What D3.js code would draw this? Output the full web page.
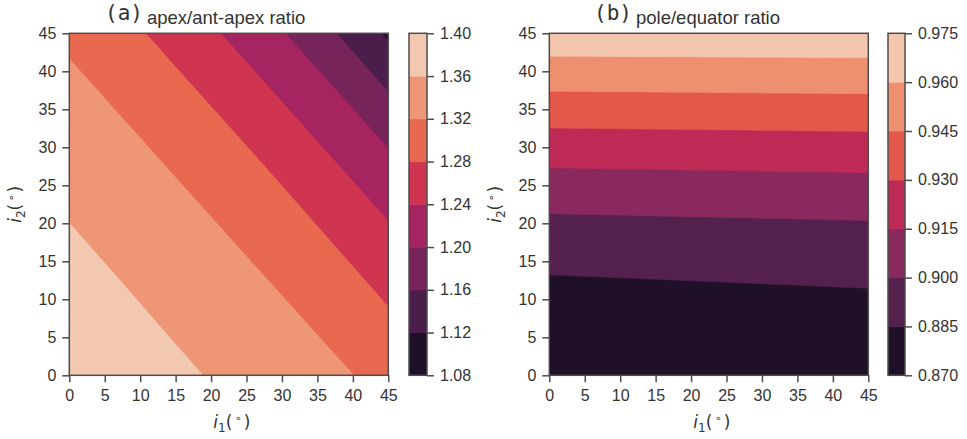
<!DOCTYPE html>
<html><head><meta charset="utf-8">
<script src="https://cdn.jsdelivr.net/npm/d3@7"></script>
<style>
body{margin:0;background:#fff}
svg text{font-family:"Liberation Sans",Arial,sans-serif;fill:#333}
</style>
</head><body>
<svg id="chart" width="967" height="439"></svg>
<script>
// ---------- data ----------
const axisTicks = [0,5,10,15,20,25,30,35,40,45];

// panel (a): apex/ant-apex ratio on a grid i1 (columns) x i2 (rows)
const gridA_i1 = [0,5,10,15,20,25,30,35,40,45];
const gridA_i2 = [0,5,10,15,20,25,30,35,40,45];
const ratioA = [
  [1.3850,1.3785,1.3719,1.3654,1.3584,1.3489,1.3394,1.3299,1.3204,1.3058],
  [1.3788,1.3722,1.3657,1.3588,1.3493,1.3398,1.3303,1.3208,1.3065,1.2918],
  [1.3726,1.3660,1.3593,1.3498,1.3403,1.3308,1.3213,1.3072,1.2925,1.2771],
  [1.3663,1.3597,1.3502,1.3407,1.3312,1.3217,1.3079,1.2932,1.2780,1.2592],
  [1.3601,1.3507,1.3412,1.3317,1.3222,1.3086,1.2939,1.2789,1.2601,1.2413],
  [1.3511,1.3416,1.3321,1.3226,1.3093,1.2946,1.2798,1.2610,1.2422,1.2204],
  [1.3421,1.3326,1.3231,1.3100,1.2953,1.2806,1.2619,1.2431,1.2215,1.1992],
  [1.3330,1.3235,1.3107,1.2960,1.2813,1.2628,1.2440,1.2225,1.2004,1.1732],
  [1.3240,1.3114,1.2967,1.2820,1.2637,1.2448,1.2236,1.2015,1.1745,1.1447],
  [1.3121,1.2974,1.2827,1.2646,1.2457,1.2246,1.2025,1.1758,1.1463,1.1134]
];
const levelsA = [1.08,1.12,1.16,1.20,1.24,1.28,1.32,1.36,1.40];
const colorsA = ["#1e1027","#4b1d4a","#77245b","#a6245f","#cf3550","#e8694f","#ee9675","#f3c8b0"];

// panel (b): pole/equator ratio
const gridB_i1 = [0,15,30,45];
const gridB_i2 = [0,5,10,15,20,25,30,35,40,45];
const ratioB = [
  [0.87475,0.87564,0.87652,0.87741],
  [0.87620,0.87707,0.87794,0.87882],
  [0.88049,0.88134,0.88217,0.88302],
  [0.88750,0.88829,0.88907,0.88986],
  [0.89702,0.89774,0.89844,0.89916],
  [0.90876,0.90938,0.90999,0.91062],
  [0.92235,0.92287,0.92338,0.92389],
  [0.93739,0.93779,0.93818,0.93858],
  [0.95342,0.95369,0.95396,0.95423],
  [0.96995,0.97009,0.97023,0.97037]
];
const levelsB = [0.870,0.885,0.900,0.915,0.930,0.945,0.960,0.975];
const colorsB = ["#1f0f27","#54214f","#8a295e","#bc2a55","#e3584b","#ee8f70","#f3c6ad"];

// ---------- drawing ----------
const svg = d3.select("#chart");
const INK = "#333";
const SPINE = "#4d4d4d";

function panel(o){
  const x = d3.scaleLinear().domain([0,45]).range([o.x0,o.x1]);
  const y = d3.scaleLinear().domain([0,45]).range([o.y1,o.y0]);
  const g = svg.append("g");
  const clipId = "clip"+o.id;
  svg.append("defs").append("clipPath").attr("id",clipId)
    .append("rect").attr("x",o.x0).attr("y",o.y0).attr("width",o.x1-o.x0).attr("height",o.y1-o.y0);

  const nx = o.gx.length, ny = o.gy.length;
  const sx = o.gx[1]-o.gx[0], sy = o.gy[1]-o.gy[0];
  const values = [];
  for (let j=0;j<ny;j++) for (let i=0;i<nx;i++) values.push(o.grid[j][i]);
  const proj = d3.geoTransform({point(px,py){
    this.stream.point(x(o.gx[0]+(px-0.5)*sx), y(o.gy[0]+(py-0.5)*sy));
  }});
  const path = d3.geoPath(proj);
  const bands = d3.contours().size([nx,ny]).thresholds(o.levels.slice(0,-1))(values);
  const cg = g.append("g").attr("clip-path",`url(#${clipId})`);
  cg.append("rect").attr("x",o.x0).attr("y",o.y0).attr("width",o.x1-o.x0).attr("height",o.y1-o.y0)
    .attr("fill",o.colors[0]);
  bands.forEach((b,k)=>{
    cg.append("path").attr("d",path(b)).attr("fill",o.colors[k])
      .attr("stroke",o.colors[k]).attr("stroke-width",0.6);
  });

  // axes
  const ax = g.append("g").attr("transform",`translate(0,${o.y1})`)
    .call(d3.axisBottom(x).tickValues(axisTicks).tickSize(7).tickPadding(7).tickFormat(d3.format("d")));
  const ay = g.append("g").attr("transform",`translate(${o.x0},0)`)
    .call(d3.axisLeft(y).tickValues(axisTicks).tickSize(7).tickPadding(6).tickFormat(d3.format("d")));
  [ax,ay].forEach(a=>{
    a.select(".domain").remove();
    a.selectAll(".tick line").attr("stroke",SPINE).attr("stroke-width",1.5);
    a.selectAll(".tick text").attr("fill",INK).style("font-size","16px")
      .style("font-family","'Liberation Sans',Arial,sans-serif");
  });
  g.append("rect").attr("x",o.x0).attr("y",o.y0).attr("width",o.x1-o.x0).attr("height",o.y1-o.y0)
    .attr("fill","none").attr("stroke",SPINE).attr("stroke-width",1.5);

  // colorbar
  const cy = d3.scaleLinear().domain([o.levels[0],o.levels[o.levels.length-1]]).range([o.y1,o.y0]);
  const cb = g.append("g");
  o.colors.forEach((c,k)=>{
    cb.append("rect").attr("x",o.cx0).attr("width",o.cx1-o.cx0)
      .attr("y",cy(o.levels[k+1])).attr("height",cy(o.levels[k])-cy(o.levels[k+1])+0.5)
      .attr("fill",c);
  });
  cb.append("rect").attr("x",o.cx0).attr("y",o.y0).attr("width",o.cx1-o.cx0).attr("height",o.y1-o.y0)
    .attr("fill","none").attr("stroke",SPINE).attr("stroke-width",1.5);
  const ca = g.append("g").attr("transform",`translate(${o.cx1},0)`)
    .call(d3.axisRight(cy).tickValues(o.levels).tickSize(7).tickPadding(6).tickFormat(d3.format(o.fmt)));
  ca.select(".domain").remove();
  ca.selectAll(".tick line").attr("stroke",SPINE).attr("stroke-width",1.5);
  ca.selectAll(".tick text").attr("fill",INK).style("font-size","16px")
    .style("font-family","'Liberation Sans',Arial,sans-serif");

  // title
  g.append("text").attr("x",o.tx).attr("y",20).style("font-family","'DejaVu Sans Mono',monospace")
    .style("font-size","21px").attr("fill","#222").text(o.tag);
  g.append("text").attr("x",o.tx+42).attr("y",23.5).style("font-size","18.5px").attr("fill",INK).text(o.title);

  // axis labels
  const xl = g.append("text").attr("x",(o.x0+o.x1)/2+3).attr("y",428).attr("text-anchor","middle")
    .style("font-family","'DejaVu Sans',sans-serif").style("font-size","17px").attr("fill",INK);
  addLabel(xl,"1");
  const yl = g.append("text").attr("transform",`translate(${o.x0-48},${(o.y0+o.y1)/2}) rotate(-90)`)
    .attr("text-anchor","middle")
    .style("font-family","'DejaVu Sans',sans-serif").style("font-size","17px").attr("fill",INK);
  addLabel(yl,"2");
}
function addLabel(t,sub){
  t.append("tspan").style("font-style","italic").text("i");
  t.append("tspan").attr("dy",4).style("font-size","12px").text(sub);
  t.append("tspan").attr("dy",-4).text("(");
  t.append("tspan").attr("dy",-6).style("font-size","11px").text("\u2009\u2218\u2009");
  t.append("tspan").attr("dy",6).text(")");
}

panel({id:"a",x0:69.3,x1:388.3,y0:33.3,y1:375.3,cx0:409,cx1:427,
  gx:gridA_i1,gy:gridA_i2,grid:ratioA,levels:levelsA,colors:colorsA,fmt:".2f",
  tx:105,tag:"(a)",title:"apex/ant-apex ratio"});
panel({id:"b",x0:549.3,x1:868.3,y0:33.3,y1:375.3,cx0:888,cx1:905,
  gx:gridB_i1,gy:gridB_i2,grid:ratioB,levels:levelsB,colors:colorsB,fmt:".3f",
  tx:594,tag:"(b)",title:"pole/equator ratio"});
</script>
</body></html>
